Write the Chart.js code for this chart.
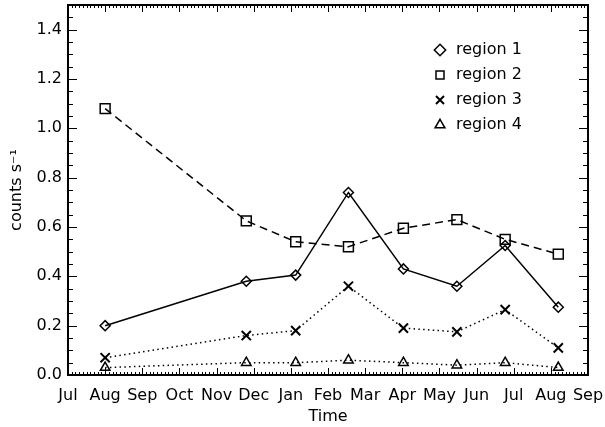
<!DOCTYPE html>
<html>
<head>
<meta charset="utf-8">
<script src="https://cdn.jsdelivr.net/npm/chart.js@4.4.1/dist/chart.umd.min.js"></script>
<style>
  html, body { margin: 0; padding: 0; background: #fff; }
  #c { display: block; }
</style>
</head>
<body>
<canvas id="c" width="605" height="427"></canvas>
<script>
// Tick labels: months from Jul (0) to the following Sep (14)
const monthLabels = ['Jul','Aug','Sep','Oct','Nov','Dec','Jan','Feb','Mar','Apr','May','Jun','Jul','Aug','Sep'];

// Observation times, in months since 1 Jul
const obsTime = [1.0, 4.8, 6.13, 7.55, 9.03, 10.47, 11.77, 13.2];

// Count rates (counts s^-1)
const region1 = [0.20, 0.38, 0.405, 0.74, 0.43, 0.36, 0.525, 0.275];
const region2 = [1.08, 0.625, 0.54, 0.52, 0.595, 0.63, 0.55, 0.49];
const region3 = [0.07, 0.16, 0.18, 0.36, 0.19, 0.175, 0.265, 0.11];
const region4 = [0.03, 0.05, 0.05, 0.06, 0.05, 0.04, 0.05, 0.03];

const seriesNames = ['region 1', 'region 2', 'region 3', 'region 4'];

const toXY = arr => arr.map((v, i) => ({ x: obsTime[i], y: v }));

Chart.defaults.font.family = 'DejaVu Sans';
Chart.defaults.font.size = 16;
Chart.defaults.color = '#000';

const frameTicks = {
  id: 'frameTicks',
  afterDraw(chart) {
    const { ctx, chartArea: a, scales: { x, y } } = chart;
    ctx.save();
    ctx.strokeStyle = '#000';
    ctx.lineWidth = 1;
    ctx.beginPath();
    for (let i = 0; i <= 30; i++) {
      const py = Math.round(y.getPixelForValue(i * 0.05)) + 0.5;
      const len = (i % 4 === 0) ? 9 : 5;
      ctx.moveTo(a.left, py); ctx.lineTo(a.left + len, py);
      ctx.moveTo(a.right, py); ctx.lineTo(a.right - len, py);
    }
    for (let i = 0; i <= 140; i++) {
      const px = Math.round(x.getPixelForValue(i / 10)) + 0.5;
      const len = (i % 10 === 0) ? 7 : 3;
      ctx.moveTo(px, a.bottom); ctx.lineTo(px, a.bottom - len);
      ctx.moveTo(px, a.top); ctx.lineTo(px, a.top + len);
    }
    ctx.stroke();
    ctx.lineWidth = 2;
    ctx.strokeRect(a.left, a.top, a.right - a.left, a.bottom - a.top);
    ctx.restore();
  }
};

const legendPlacer = {
  id: 'legendPlacer',
  beforeDraw(chart) {
    const lg = chart.legend;
    if (lg) {
      lg.left = 423;
      lg.top = 33;
      lg.right = 600;
    }
  }
};

new Chart(document.getElementById('c'), {
  type: 'line',
  data: {
    datasets: [
      {
        label: seriesNames[0], data: toXY(region1),
        borderColor: '#000', backgroundColor: 'rgba(0,0,0,0)',
        borderWidth: 1.5,
        pointStyle: 'rectRot', pointRadius: 5, pointBorderWidth: 1.5,
        pointBorderColor: '#000', pointBackgroundColor: 'rgba(0,0,0,0)'
      },
      {
        label: seriesNames[1], data: toXY(region2),
        borderColor: '#000', backgroundColor: 'rgba(0,0,0,0)',
        borderWidth: 1.5, borderDash: [8, 5],
        pointStyle: 'rect', pointRadius: 7, pointBorderWidth: 1.5,
        pointBorderColor: '#000', pointBackgroundColor: 'rgba(0,0,0,0)'
      },
      {
        label: seriesNames[2], data: toXY(region3),
        borderColor: '#000', backgroundColor: 'rgba(0,0,0,0)',
        borderWidth: 1.5, borderDash: [1.5, 3.3],
        pointStyle: 'crossRot', pointRadius: 6.5, pointBorderWidth: 2,
        pointBorderColor: '#000', pointBackgroundColor: 'rgba(0,0,0,0)'
      },
      {
        label: seriesNames[3], data: toXY(region4),
        borderColor: '#000', backgroundColor: 'rgba(0,0,0,0)',
        borderWidth: 1.5, borderDash: [1.5, 3.3],
        pointStyle: 'triangle', pointRadius: 5.5, pointBorderWidth: 1.5,
        pointBorderColor: '#000', pointBackgroundColor: 'rgba(0,0,0,0)'
      }
    ]
  },
  options: {
    responsive: false,
    animation: false,
    devicePixelRatio: 1,
    layout: { autoPadding: false, padding: { top: 5, right: 17, left: 0, bottom: 0 } },
    plugins: {
      tooltip: { enabled: false },
      legend: {
        position: 'chartArea',
        align: 'start',
        labels: {
          usePointStyle: true,
          boxHeight: 8,
          padding: 9,
          color: '#000',
          font: { size: 16, family: 'DejaVu Sans' }
        }
      }
    },
    scales: {
      x: {
        type: 'linear',
        min: 0, max: 14,
        grid: { display: false, drawTicks: false },
        border: { display: false },
        ticks: {
          stepSize: 1,
          autoSkip: false,
          maxRotation: 0,
          includeBounds: false,
          padding: 11,
          font: { size: 16 },
          callback: v => monthLabels[Math.round(v)] ?? ''
        },
        title: { display: true, text: 'Time', font: { size: 16 }, padding: { top: 0, bottom: 1 } },
        afterFit: s => { s.height = 52; s.paddingLeft = 0; s.paddingRight = 0; s.paddingTop = 0; s.paddingBottom = 0; }
      },
      y: {
        type: 'linear',
        min: 0, max: 1.5,
        grid: { display: false, drawTicks: false },
        border: { display: false },
        ticks: {
          stepSize: 0.2,
          includeBounds: false,
          padding: 6,
          font: { size: 16 },
          callback: v => Number(v).toFixed(1)
        },
        title: { display: true, text: 'counts s⁻¹', font: { size: 16 }, padding: { top: 7, bottom: 0 } },
        afterFit: s => { s.width = 68; s.paddingTop = 0; s.paddingBottom = 0; s.paddingLeft = 0; s.paddingRight = 0; }
      }
    }
  },
  plugins: [frameTicks, legendPlacer]
});
</script>
</body>
</html>
